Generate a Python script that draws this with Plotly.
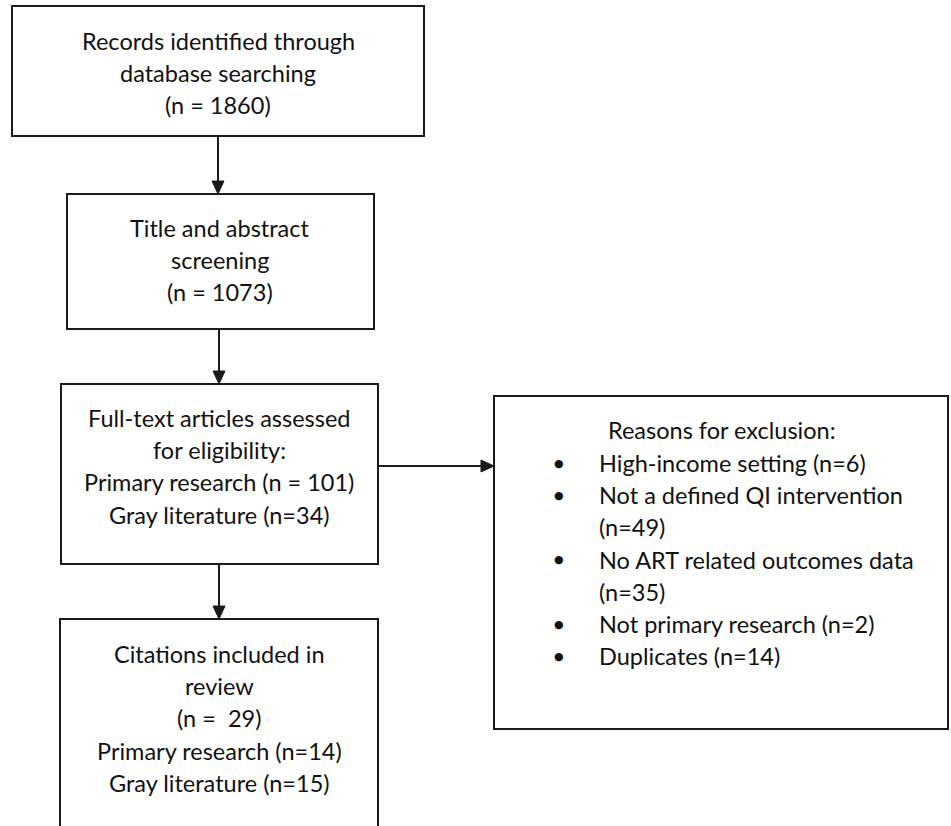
import plotly.graph_objects as go

# ---- content ----
box1_lines = ["Records identified through", "database searching", "(n = 1860)"]
box2_lines = ["Title and abstract", "screening", "(n = 1073)"]
box3_lines = ["Full-text articles assessed", "for eligibility:", "Primary research (n = 101)", "Gray literature (n=34)"]
box5_lines = ["Citations included in", "review", "(n =  29)", "Primary research (n=14)", "Gray literature (n=15)"]
excl_title = "Reasons for exclusion:"
excl_items = [["High-income setting (n=6)"],
              ["Not a defined QI intervention", "(n=49)"],
              ["No ART related outcomes data", "(n=35)"],
              ["Not primary research (n=2)"],
              ["Duplicates (n=14)"]]

# ---- layout geometry (pixels) ----
W, H = 951, 826
FONT = "Lato"
FS = 23.5
TXT = "#111111"
LC = "#1a1a1a"
LW = 2
LINE_H = 32.2

boxes = {
    "b1": (12, 6, 424, 136),
    "b2": (67, 194, 374, 329),
    "b3": (61, 384, 378, 564),
    "b4": (494, 396, 948, 729),
}
b5 = (60, 619, 378, 840)

fig = go.Figure()
fig.add_trace(go.Scatter(x=[0, W], y=[0, H], mode="markers", marker=dict(opacity=0), hoverinfo="skip", showlegend=False))

shapes = []
for (x0, y0, x1, y1) in boxes.values():
    shapes.append(dict(type="rect", x0=x0, y0=y0, x1=x1, y1=y1, line=dict(color=LC, width=LW), fillcolor="rgba(0,0,0,0)"))
x0, y0, x1, y1 = b5
shapes.append(dict(type="path", path=f"M{x0},{y1} L{x0},{y0} L{x1},{y0} L{x1},{y1}", line=dict(color=LC, width=LW)))

def vline_arrow(x, ya, yb):
    shapes.append(dict(type="line", x0=x, y0=ya, x1=x, y1=yb - 10, line=dict(color=LC, width=LW)))
    shapes.append(dict(type="path", path=f"M{x-6},{yb-13} L{x+6},{yb-13} L{x},{yb} Z", fillcolor=LC, line=dict(color=LC, width=1)))

def harrow(y, xa, xb):
    shapes.append(dict(type="line", x0=xa, y0=y, x1=xb - 10, y1=y, line=dict(color=LC, width=LW)))
    shapes.append(dict(type="path", path=f"M{xb-13},{y-6} L{xb-13},{y+6} L{xb},{y} Z", fillcolor=LC, line=dict(color=LC, width=1)))

vline_arrow(218, 136, 194)
vline_arrow(219, 329, 384)
vline_arrow(219, 564, 619)
harrow(466, 378, 494)

annotations = []
def add_lines(lines, xc, y_first, anchor="center"):
    for i, t in enumerate(lines):
        annotations.append(dict(x=xc, y=y_first + i * LINE_H, text=t, showarrow=False,
                                xanchor=anchor, yanchor="middle",
                                font=dict(family=FONT, size=FS, color=TXT)))

add_lines(box1_lines, 218, 41)
add_lines(box2_lines, 220, 228)
add_lines(box3_lines, 219, 418)
add_lines(box5_lines, 219, 654)

annotations.append(dict(x=606, y=430, text=excl_title, showarrow=False, xanchor="left", yanchor="middle",
                        font=dict(family=FONT, size=FS, color=TXT)))
y = 463
for item in excl_items:
    annotations.append(dict(x=559, y=y, text="●", showarrow=False, xanchor="center", yanchor="middle",
                            font=dict(family="DejaVu Sans", size=11, color=TXT)))
    for t in item:
        annotations.append(dict(x=597, y=y, text=t, showarrow=False, xanchor="left", yanchor="middle",
                                font=dict(family=FONT, size=FS, color=TXT)))
        y += LINE_H

fig.update_layout(
    width=W, height=H, margin=dict(l=0, r=0, t=0, b=0),
    paper_bgcolor="white", plot_bgcolor="white",
    xaxis=dict(range=[0, W], visible=False, fixedrange=True),
    yaxis=dict(range=[H, 0], visible=False, fixedrange=True),
    shapes=shapes, annotations=annotations, showlegend=False,
)
fig.write_html("out.html", config={"displayModeBar": False},
               post_script="document.body.style.margin='0';document.body.style.overflow='hidden';")
